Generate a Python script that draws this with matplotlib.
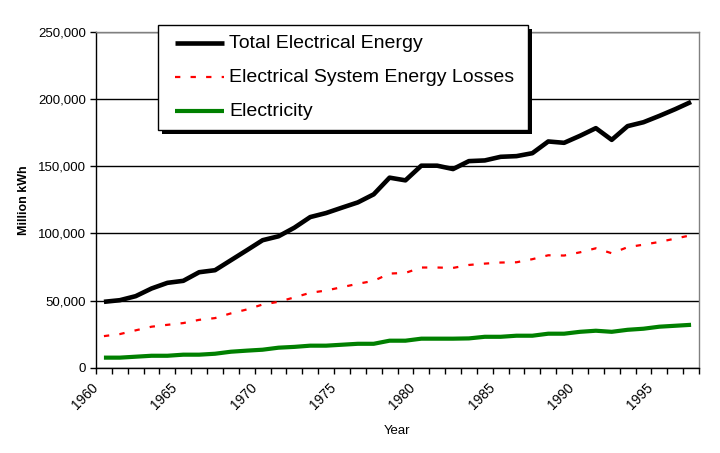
import matplotlib
matplotlib.use("Agg")
import matplotlib.pyplot as plt
from matplotlib.ticker import FuncFormatter, FixedLocator, MultipleLocator
from matplotlib.patches import Rectangle
from matplotlib.lines import Line2D

years = list(range(1960, 1998))
total = [49200, 50400, 53400, 59100, 63300, 64800, 71200, 72700, 80100, 87500,
         95000, 97900, 104300, 112200, 115200, 119200, 123100, 129100, 141500, 139500,
         150400, 150400, 147900, 153800, 154300, 157000, 157500, 159700, 168400, 167400,
         172600, 178300, 169600, 179800, 182700, 187400, 192400, 197800]
losses = [23700, 25200, 28000, 30700, 32100, 33400, 35800, 37100, 40600, 43500,
          47200, 49200, 52500, 55900, 57600, 60100, 62600, 64800, 70200, 70700,
          74700, 74700, 74400, 76600, 77600, 78400, 78600, 80900, 83800, 83600,
          86000, 89000, 85300, 89800, 91700, 93700, 96200, 98700]
electricity = [7700, 7700, 8400, 9100, 9100, 9900, 9900, 10600, 12100, 12900,
               13600, 15100, 15700, 16600, 16600, 17300, 18000, 18000, 20300, 20300,
               21800, 21800, 21800, 22000, 23200, 23200, 24000, 24000, 25500, 25500,
               26900, 27700, 26900, 28400, 29200, 30700, 31400, 32100]
series_names = ["Total Electrical Energy", "Electrical System Energy Losses", "Electricity"]

plt.rcParams['font.family'] = ['Liberation Sans', 'DejaVu Sans']

W, H = 720, 453
fig = plt.figure(figsize=(W / 100, H / 100), dpi=100)
L, R, T, B = 96, 699, 31.7, 368
ax = fig.add_axes([L / W, 1 - B / H, (R - L) / W, (B - T) / H])


def fx(px):
    return px / W


def fy(py):
    return 1 - py / H


x = list(range(len(years)))
styles = [
    dict(color='black', lw=3.3, solid_joinstyle='round', solid_capstyle='butt'),
    dict(color='#ff0000', lw=1.6, dashes=(2.4, 4.6)),
    dict(color='#008000', lw=3.0, solid_capstyle='butt'),
]
for vals, st, z in zip([total, losses, electricity], styles, [4, 3, 3]):
    ax.plot(x, vals, zorder=z, **st)

ax.set_xlim(-0.5, len(years) - 0.5)
ax.set_ylim(0, 250000)
ax.yaxis.set_major_locator(MultipleLocator(50000))
ax.yaxis.set_major_formatter(FuncFormatter(lambda v, p: f"{int(v):,}"))
ax.grid(axis='y', color='black', lw=1.0)
ax.set_axisbelow(True)

label_idx = [i for i, y in enumerate(years) if y % 5 == 0]
ax.xaxis.set_major_locator(FixedLocator([i - 0.2 for i in label_idx]))
ax.set_xticklabels([str(years[i]) for i in label_idx], rotation=45, ha='right',
                   va='top', rotation_mode='default', fontsize=10)
ax.xaxis.set_minor_locator(FixedLocator([i - 0.5 for i in range(len(years) + 1)]))
ax.tick_params(axis='x', which='major', length=0, pad=9)
ax.tick_params(axis='x', which='minor', length=4, width=1, direction='out', color='black')
ax.tick_params(axis='y', length=4, width=1, direction='out', labelsize=9.5, pad=3)

for s in ['left', 'bottom']:
    ax.spines[s].set_color('black')
    ax.spines[s].set_linewidth(1.0)
for s in ['top', 'right']:
    ax.spines[s].set_color('#808080')
    ax.spines[s].set_linewidth(1.0)

ax.set_xlabel("Year", fontsize=9.5, labelpad=9)
ax.set_ylabel("Million kWh", fontsize=9, fontweight='bold', labelpad=6)

# legend drawn as a box with shadow
bx0, by0, bx1, by1 = 158, 25, 528, 130
fig.add_artist(Rectangle((fx(bx0 + 4), fy(by1 + 4)), fx(bx1 - bx0), (by1 - by0) / H,
                         transform=fig.transFigure, facecolor='black', edgecolor='none', zorder=9))
fig.add_artist(Rectangle((fx(bx0), fy(by1)), fx(bx1 - bx0), (by1 - by0) / H,
                         transform=fig.transFigure, facecolor='white', edgecolor='black',
                         lw=1.0, zorder=10))
row_y = [43, 77, 111]
for name, st, ry in zip(series_names, styles, row_y):
    fig.add_artist(Line2D([fx(175), fx(224)], [fy(ry), fy(ry)], transform=fig.transFigure,
                          zorder=11, **st))
    fig.text(fx(229), fy(ry), name, fontsize=14, va='center', ha='left', zorder=12)

fig.savefig("out.png", dpi=100)
